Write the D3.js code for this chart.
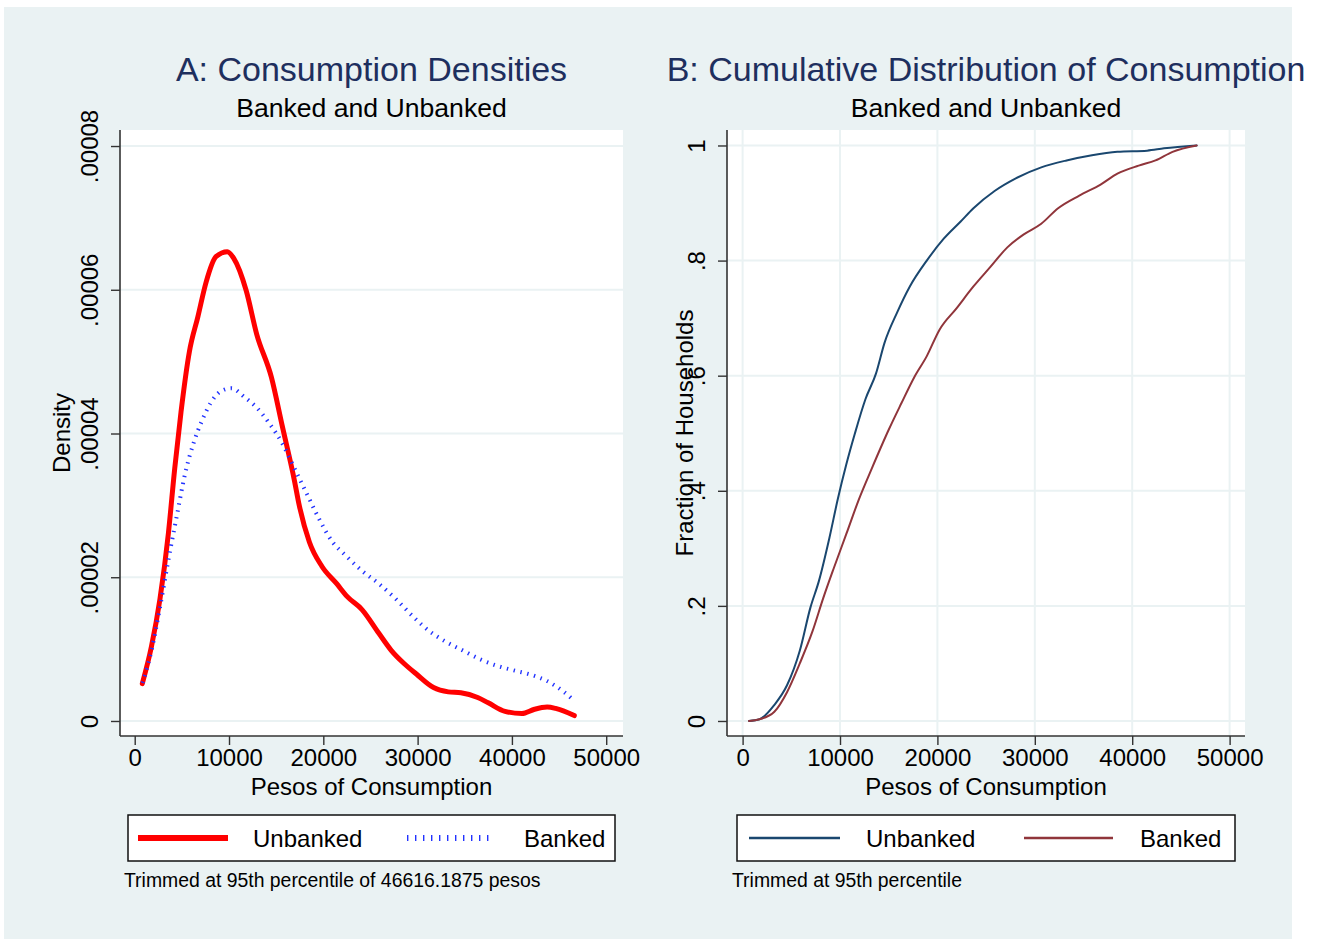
<!DOCTYPE html>
<html>
<head>
<meta charset="utf-8">
<script src="https://cdn.jsdelivr.net/npm/d3@7.9.0/dist/d3.min.js"></script>
<style>
  body { margin: 0; background: #ffffff; }
  svg { display: block; font-family: "Liberation Sans", Arial, sans-serif; }
</style>
</head>
<body>
<svg id="chart" width="1324" height="939"></svg>
<script>
// ---- data ----
const densityUnbankedX = [805, 1780, 2680, 3570, 4240, 4910, 5800, 6690, 7580, 8610, 9820, 10490, 11820, 12940, 14500, 15620, 16960, 17400, 18520, 19860, 21420, 22540, 24100, 25890, 27220, 28560, 29900, 31690, 33250, 34590, 36370, 37490, 39270, 41060, 42400, 43730, 44630, 46616];
const densityUnbankedY = [5.2e-6, 1.04e-5, 1.70e-5, 2.61e-5, 3.51e-5, 4.30e-5, 5.14e-5, 5.62e-5, 6.11e-5, 6.46e-5, 6.53e-5, 6.44e-5, 5.99e-5, 5.38e-5, 4.78e-5, 4.12e-5, 3.33e-5, 3.03e-5, 2.49e-5, 2.15e-5, 1.91e-5, 1.73e-5, 1.55e-5, 1.22e-5, 9.8e-6, 8.0e-6, 6.5e-6, 4.65e-6, 4.05e-6, 3.92e-6, 3.26e-6, 2.53e-6, 1.34e-6, 1.03e-6, 1.63e-6, 1.93e-6, 1.75e-6, 7.5e-7];

const densityBankedX = [830, 1780, 2680, 3570, 4460, 5360, 6250, 7140, 8030, 9150, 10270, 11600, 12940, 14280, 15620, 16960, 18290, 19640, 20980, 22310, 24100, 25890, 27670, 29460, 31240, 33020, 34810, 36600, 38380, 40170, 41950, 43730, 45530, 46616];
const densityBankedY = [5.3e-6, 9.8e-6, 1.58e-5, 2.24e-5, 2.85e-5, 3.45e-5, 3.87e-5, 4.18e-5, 4.42e-5, 4.59e-5, 4.63e-5, 4.51e-5, 4.36e-5, 4.14e-5, 3.87e-5, 3.51e-5, 3.15e-5, 2.79e-5, 2.49e-5, 2.31e-5, 2.09e-5, 1.91e-5, 1.70e-5, 1.46e-5, 1.25e-5, 1.10e-5, 9.8e-6, 8.6e-6, 7.7e-6, 7.05e-6, 6.46e-6, 5.55e-6, 4.03e-6, 2.8e-6];

const cdfUnbankedX = [660, 1740, 3260, 4560, 5870, 6960, 7830, 8910, 9780, 10650, 11520, 12610, 13700, 14570, 15870, 17170, 18910, 20650, 22390, 23700, 25870, 28050, 30660, 33260, 35870, 38480, 41530, 43270, 46616];
const cdfUnbankedY = [0, 0.003, 0.028, 0.062, 0.122, 0.197, 0.243, 0.318, 0.386, 0.446, 0.499, 0.559, 0.604, 0.657, 0.710, 0.755, 0.800, 0.838, 0.868, 0.891, 0.921, 0.943, 0.962, 0.974, 0.983, 0.989, 0.991, 0.995, 1.0];

const cdfBankedX = [660, 1740, 3260, 4560, 5870, 7180, 8270, 9350, 10650, 11960, 13270, 15000, 16300, 17610, 18910, 20220, 21960, 23700, 25440, 27180, 28910, 30660, 32390, 34570, 36750, 38480, 40660, 42390, 44140, 46616];
const cdfBankedY = [0, 0.003, 0.016, 0.050, 0.100, 0.156, 0.213, 0.265, 0.325, 0.386, 0.439, 0.506, 0.552, 0.597, 0.634, 0.680, 0.717, 0.755, 0.789, 0.823, 0.846, 0.864, 0.891, 0.913, 0.932, 0.951, 0.965, 0.974, 0.989, 1.0];

const xTicks = [0, 10000, 20000, 30000, 40000, 50000];
const xTickLabels = ["0", "10000", "20000", "30000", "40000", "50000"];
const densityTicks = [0, 0.00002, 0.00004, 0.00006, 0.00008];
const densityTickLabels = ["0", ".00002", ".00004", ".00006", ".00008"];
const cdfTicks = [0, 0.2, 0.4, 0.6, 0.8, 1];
const cdfTickLabels = ["0", ".2", ".4", ".6", ".8", "1"];
const seriesNames = ["Unbanked", "Banked"];

const zip = (xs, ys) => xs.map((x, i) => [x, ys[i]]);

// ---- layout ----
const svg = d3.select("#chart");
const BG = "#eaf2f3";
const TITLE = "#1e2f5e";

svg.append("rect").attr("x", 4).attr("y", 7).attr("width", 1288).attr("height", 932).attr("fill", BG);

const panels = [
  {
    title: "A: Consumption Densities",
    ytitle: "Density",
    left: 120, right: 623, top: 130, bottom: 736,
    xdomain: [-1560, 51780],
    ydomain: [-2.09e-6, 8.223e-5],
    yticks: densityTicks, ylabels: densityTickLabels,
    vgrid: false,
    ytitleX: 70,
    series: [
      { pts: zip(densityUnbankedX, densityUnbankedY), color: "#ff0000", width: 5, dash: null },
      { pts: zip(densityBankedX, densityBankedY), color: "#2233ff", width: 4, dash: "1.4,5.6" }
    ],
    legend: { x: 128, w: 487, swatch: [138, 228], label1: 253, swatch2: [407, 492], label2: 524 },
    note: "Trimmed at 95th percentile of 46616.1875 pesos", noteX: 124
  },
  {
    title: "B: Cumulative Distribution of Consumption",
    ytitle: "Fraction of Households",
    left: 727, right: 1245, top: 130, bottom: 736,
    xdomain: [-1602, 51580],
    ydomain: [-0.0261, 1.0269],
    yticks: cdfTicks, ylabels: cdfTickLabels,
    vgrid: true,
    ytitleX: 693,
    series: [
      { pts: zip(cdfUnbankedX, cdfUnbankedY), color: "#1a476f", width: 2, dash: null },
      { pts: zip(cdfBankedX, cdfBankedY), color: "#90353b", width: 2, dash: null }
    ],
    legend: { x: 737, w: 498, swatch: [749, 840], label1: 866, swatch2: [1024, 1113], label2: 1140 },
    note: "Trimmed at 95th percentile", noteX: 732
  }
];

panels.forEach((p) => {
  const g = svg.append("g");
  const cx = (p.left + p.right) / 2;
  const x = d3.scaleLinear().domain(p.xdomain).range([p.left, p.right]);
  const y = d3.scaleLinear().domain(p.ydomain).range([p.bottom, p.top]);

  // titles
  g.append("text").attr("x", cx).attr("y", 81).attr("text-anchor", "middle")
    .attr("font-size", 34).attr("fill", TITLE).text(p.title);
  g.append("text").attr("x", cx).attr("y", 117).attr("text-anchor", "middle")
    .attr("font-size", 26.6).attr("fill", "#000").text("Banked and Unbanked");

  // plot region
  g.append("rect").attr("x", p.left).attr("y", p.top)
    .attr("width", p.right - p.left).attr("height", p.bottom - p.top).attr("fill", "#fff");

  // gridlines
  g.append("g").selectAll("line").data(p.yticks).join("line")
    .attr("x1", p.left).attr("x2", p.right)
    .attr("y1", (d) => y(d)).attr("y2", (d) => y(d))
    .attr("stroke", BG).attr("stroke-width", 2);
  if (p.vgrid) {
    g.append("g").selectAll("line").data(xTicks).join("line")
      .attr("y1", p.top).attr("y2", p.bottom)
      .attr("x1", (d) => x(d)).attr("x2", (d) => x(d))
      .attr("stroke", BG).attr("stroke-width", 2);
  }

  // series
  p.series.forEach((s) => {
    const line = d3.line().x((d) => x(d[0])).y((d) => y(d[1])).curve(d3.curveMonotoneX);
    g.append("path").datum(s.pts).attr("d", line)
      .attr("fill", "none").attr("stroke", s.color).attr("stroke-width", s.width)
      .attr("stroke-linejoin", "round").attr("stroke-linecap", s.dash ? "butt" : "round")
      .attr("stroke-dasharray", s.dash);
  });

  // axes
  const xAxis = g.append("g").attr("transform", `translate(0,${p.bottom})`)
    .call(d3.axisBottom(x).tickValues(xTicks).tickFormat((d, i) => xTickLabels[i]).tickSize(9).tickSizeOuter(0).tickPadding(4));
  const yAxis = g.append("g").attr("transform", `translate(${p.left},0)`)
    .call(d3.axisLeft(y).tickValues(p.yticks).tickFormat((d, i) => p.ylabels[i]).tickSize(9).tickSizeOuter(0));
  [xAxis, yAxis].forEach((a) => {
    a.select(".domain").attr("stroke", "#333").attr("stroke-width", 1.6);
    a.selectAll(".tick line").attr("stroke", "#333").attr("stroke-width", 1.4);
    a.selectAll(".tick text").attr("font-size", 24).attr("fill", "#000")
      .attr("font-family", "'Liberation Sans', Arial, sans-serif");
  });
  xAxis.select(".domain").attr("d", `M${p.left},0H${p.right}`);
  yAxis.select(".domain").attr("d", `M0,${p.top}V${p.bottom}`);
  yAxis.selectAll(".tick text")
    .attr("transform", "rotate(-90)").attr("x", 0).attr("y", -22).attr("dy", 0)
    .attr("text-anchor", "middle");

  // axis titles
  g.append("text").attr("x", cx).attr("y", 795).attr("text-anchor", "middle")
    .attr("font-size", 24).text("Pesos of Consumption");
  g.append("text").attr("transform", `translate(${p.ytitleX},${(p.top + p.bottom) / 2}) rotate(-90)`)
    .attr("text-anchor", "middle").attr("font-size", 24).text(p.ytitle);

  // legend
  const L = p.legend;
  g.append("rect").attr("x", L.x).attr("y", 815).attr("width", L.w).attr("height", 46)
    .attr("fill", "#fff").attr("stroke", "#111").attr("stroke-width", 1.5);
  [[L.swatch, L.label1], [L.swatch2, L.label2]].forEach(([sw, lx], i) => {
    const s = p.series[i];
    g.append("line").attr("x1", sw[0]).attr("x2", sw[1]).attr("y1", 838).attr("y2", 838)
      .attr("stroke", s.color).attr("stroke-width", s.dash ? 6 : (s.width === 5 ? 6 : 2.5))
      .attr("stroke-dasharray", s.dash ? "1.4,6.6" : null);
    g.append("text").attr("x", lx).attr("y", 847).attr("font-size", 24).text(seriesNames[i]);
  });

  // note
  g.append("text").attr("x", p.noteX).attr("y", 887).attr("font-size", 19.4).text(p.note);
});
</script>
</body>
</html>
